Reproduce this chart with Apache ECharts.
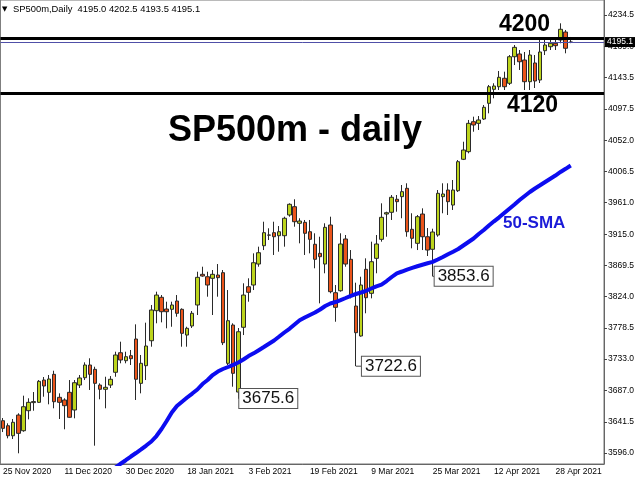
<!DOCTYPE html>
<html><head><meta charset="utf-8">
<script src="https://cdn.jsdelivr.net/npm/echarts@6/dist/echarts.min.js"></script>
<style>html,body{margin:0;padding:0;background:#fff}#c{width:640px;height:480px}</style>
</head><body><div id="c"></div>
<script>
const categories = ['25 Nov 2020','26 Nov 2020','27 Nov 2020','30 Nov 2020','1 Dec 2020','2 Dec 2020','3 Dec 2020','4 Dec 2020','7 Dec 2020','8 Dec 2020','9 Dec 2020','10 Dec 2020','11 Dec 2020','14 Dec 2020','15 Dec 2020','16 Dec 2020','17 Dec 2020','18 Dec 2020','21 Dec 2020','22 Dec 2020','23 Dec 2020','24 Dec 2020','28 Dec 2020','29 Dec 2020','30 Dec 2020','31 Dec 2020','4 Jan 2021','5 Jan 2021','6 Jan 2021','7 Jan 2021','8 Jan 2021','11 Jan 2021','12 Jan 2021','13 Jan 2021','14 Jan 2021','15 Jan 2021','18 Jan 2021','19 Jan 2021','20 Jan 2021','21 Jan 2021','22 Jan 2021','25 Jan 2021','26 Jan 2021','27 Jan 2021','28 Jan 2021','29 Jan 2021','1 Feb 2021','2 Feb 2021','3 Feb 2021','4 Feb 2021','5 Feb 2021','8 Feb 2021','9 Feb 2021','10 Feb 2021','11 Feb 2021','12 Feb 2021','15 Feb 2021','16 Feb 2021','17 Feb 2021','18 Feb 2021','19 Feb 2021','22 Feb 2021','23 Feb 2021','24 Feb 2021','25 Feb 2021','26 Feb 2021','1 Mar 2021','2 Mar 2021','3 Mar 2021','4 Mar 2021','5 Mar 2021','8 Mar 2021','9 Mar 2021','10 Mar 2021','11 Mar 2021','12 Mar 2021','15 Mar 2021','16 Mar 2021','17 Mar 2021','18 Mar 2021','19 Mar 2021','22 Mar 2021','23 Mar 2021','24 Mar 2021','25 Mar 2021','26 Mar 2021','29 Mar 2021','30 Mar 2021','31 Mar 2021','1 Apr 2021','2 Apr 2021','5 Apr 2021','6 Apr 2021','7 Apr 2021','8 Apr 2021','9 Apr 2021','12 Apr 2021','13 Apr 2021','14 Apr 2021','15 Apr 2021','16 Apr 2021','19 Apr 2021','20 Apr 2021','21 Apr 2021','22 Apr 2021','23 Apr 2021','26 Apr 2021','27 Apr 2021','28 Apr 2021','29 Apr 2021','30 Apr 2021','3 May 2021'];

const opens = [3643.1,3635.8,3621.2,3651.4,3628.5,3657.7,3669.5,3669.9,3702.4,3684.5,3710.7,3677.2,3673.3,3684.5,3658.7,3695.1,3705.8,3724.3,3718.0,3695.1,3688.9,3695.1,3713.7,3742.2,3730.6,3737.9,3762.2,3697.6,3723.3,3759.7,3803.5,3823.0,3805.9,3805.5,3817.6,3805.5,3768.0,3781.2,3811.8,3856.5,3853.0,3850.7,3855.5,3858.9,3726.8,3782.6,3684.9,3779.3,3838.4,3840.9,3871.5,3898.2,3913.8,3917.2,3912.8,3912.8,3943.0,3955.1,3930.9,3932.3,3918.6,3900.3,3887.1,3871.5,3928.4,3829.7,3832.6,3908.0,3878.4,3810.3,3766.6,3863.8,3828.8,3879.8,3907.5,3944.4,3946.9,3965.9,3969.7,3981.9,3922.1,3901.7,3944.4,3911.3,3893.0,3913.8,3969.7,3979.4,3957.5,3978.4,4024.2,4035.3,4079.0,4076.6,4082.9,4105.8,4126.2,4130.0,4142.3,4135.0,4173.7,4177.7,4168.9,4137.3,4164.6,4139.8,4182.5,4188.3,4193.3,4198.1,4209.7,4195.0];
const highs = [3647.0,3639.3,3645.6,3653.9,3679.6,3675.8,3684.9,3702.4,3706.8,3709.7,3716.0,3683.0,3675.8,3702.4,3702.4,3709.7,3728.2,3734.1,3721.8,3697.6,3707.2,3708.2,3743.7,3758.3,3743.7,3746.2,3783.6,3738.9,3786.0,3811.8,3831.2,3826.3,3816.6,3816.6,3826.3,3806.9,3780.1,3803.0,3860.3,3867.6,3860.3,3862.8,3871.5,3862.8,3833.6,3785.1,3778.2,3843.4,3850.7,3887.1,3896.8,3933.2,3923.6,3933.2,3926.9,3940.5,3960.0,3965.9,3938.2,3935.7,3935.7,3916.3,3911.3,3930.9,3940.5,3840.9,3916.3,3913.8,3891.9,3844.3,3853.0,3879.8,3904.1,3913.8,3960.0,3947.8,3972.1,3972.1,3986.7,3989.2,3945.5,3943.0,3952.7,3924.0,3923.0,3979.4,3989.2,3989.2,3994.0,4023.1,4049.8,4081.5,4086.3,4087.3,4103.3,4132.5,4135.0,4152.9,4151.9,4176.2,4190.8,4183.5,4180.6,4183.5,4176.2,4198.1,4198.1,4200.6,4198.1,4222.4,4212.7,4202.5];
const lows = [3626.6,3617.4,3616.4,3595.6,3627.0,3645.1,3657.7,3669.0,3678.1,3667.0,3661.2,3645.6,3630.6,3647.5,3646.6,3690.8,3702.4,3687.9,3606.7,3674.3,3661.2,3690.8,3707.2,3726.8,3726.8,3724.3,3673.3,3683.0,3702.4,3751.0,3785.1,3786.5,3777.8,3780.1,3794.7,3751.0,3751.0,3778.3,3797.2,3853.0,3823.9,3797.2,3823.9,3753.4,3724.3,3692.7,3675.6,3768.0,3816.6,3833.6,3867.6,3891.9,3906.5,3884.7,3889.5,3896.8,3940.5,3925.9,3901.7,3884.7,3887.1,3865.3,3814.2,3858.0,3828.8,3787.4,3831.2,3867.6,3821.5,3722.6,3765.6,3799.7,3821.5,3858.0,3904.1,3911.3,3935.7,3947.8,3938.2,3911.3,3894.4,3891.9,3891.9,3883.2,3853.6,3911.3,3945.5,3943.0,3950.3,3976.5,4023.1,4032.9,4064.4,4066.9,4081.5,4091.2,4113.1,4125.2,4125.2,4132.5,4161.6,4154.4,4125.2,4125.2,4128.1,4135.4,4176.2,4183.5,4183.5,4193.3,4178.7,4193.5];
const closes = [3632.0,3621.2,3640.8,3624.7,3663.5,3669.9,3671.0,3700.5,3693.7,3703.9,3670.8,3669.9,3665.0,3648.1,3698.5,3705.4,3724.3,3710.7,3697.6,3688.9,3691.8,3703.5,3738.9,3731.6,3736.4,3733.5,3703.5,3726.8,3752.0,3804.5,3826.3,3802.0,3802.0,3811.8,3799.7,3770.5,3777.8,3799.7,3852.1,3854.0,3840.9,3856.5,3851.6,3756.8,3788.9,3712.2,3772.8,3826.3,3830.3,3873.4,3888.0,3917.2,3913.6,3911.3,3918.6,3938.2,3958.6,3933.2,3934.2,3916.3,3907.5,3878.4,3882.2,3925.0,3831.2,3808.4,3900.7,3871.5,3823.9,3771.4,3840.9,3822.4,3874.9,3900.7,3939.6,3946.3,3968.8,3962.4,3977.0,3918.6,3909.0,3940.5,3911.3,3891.9,3918.2,3974.6,3973.6,3962.4,3979.4,4020.7,4037.7,4076.6,4074.2,4081.5,4100.0,4130.0,4131.0,4143.7,4130.0,4173.7,4187.4,4166.4,4137.3,4176.2,4138.3,4180.6,4190.8,4193.3,4189.8,4213.7,4186.0,4195.1];

const sma50 = [null,null,null,null,null,null,null,null,null,null,null,null,null,null,null,null,null,null,null,null,null,
3569.8,3574.9,3580.4,3585.5,3590.9,3596.0,3601.2,3606.9,3612.8,3620.8,3631.0,3642.7,3655.0,3664.5,3670.8,3676.9,3682.7,3688.6,3696.6,3702.4,3709.7,3714.8,3718.5,3721.4,3724.6,3727.9,3732.3,3737.4,3741.3,3745.9,3750.5,3755.3,3760.0,3765.8,3771.7,3777.1,3783.3,3789.5,3793.5,3797.2,3800.8,3805.2,3810.3,3814.0,3816.1,3819.0,3822.0,3825.2,3827.8,3830.0,3832.5,3835.8,3839.0,3841.6,3846.7,3852.6,3858.0,3860.6,3863.5,3866.0,3868.3,3870.5,3872.6,3874.7,3878.1,3881.7,3885.7,3889.5,3893.4,3898.5,3903.6,3908.7,3915.3,3921.1,3927.7,3933.8,3939.6,3945.9,3952.2,3958.3,3964.8,3970.7,3976.5,3981.6,3986.3,3991.1,3995.9,4000.5,4005.7,4010.3,4015.1];

const yTickValues = [4234.5,4189.0,4143.5,4097.5,4052.0,4006.5,3961.0,3915.0,3869.5,3824.0,3778.5,3733.0,3687.0,3641.5,3596.0];
const levels = [4200, 4120];
const annotatedLowIdx = [46, 69, 84];
const symbolName = 'SP500m';
const timeframe = 'Daily';
const bigTitle = 'SP500m - daily';
const smaName = '50-SMA';

const FONT = '"Liberation Sans", Arial, sans-serif';
const n = categories.length;
const axisData = categories.concat(['', '', '', '', '', '']);
const candleData = opens.map((o, i) => [o, closes[i], lows[i], highs[i]]);
const last = n - 1;
const gaps = [1, 6, 2];

const chart = echarts.init(document.getElementById('c'), null, {renderer: 'canvas'});

const option = {
  animation: false,
  backgroundColor: '#fff',
  grid: {left: 0, top: 0, width: 604, height: 464, show: true, borderColor: '#777', borderWidth: 1, backgroundColor: 'transparent'},
  xAxis: {
    type: 'category', data: axisData, boundaryGap: true,
    axisLine: {lineStyle: {color: '#666', width: 1}},
    axisTick: {alignWithLabel: true, length: 3, lineStyle: {color: '#444'},
      interval: (i) => i % 12 === 0 && i < n},
    axisLabel: {interval: (i) => i % 12 === 0 && i < n, align: 'left', margin: 3,
      fontSize: 8.5, color: '#000', fontFamily: FONT},
    splitLine: {show: false}
  },
  yAxis: {
    type: 'value', position: 'right', min: 3580, max: 4256.4,
    axisLine: {show: true, lineStyle: {color: '#666', width: 1}},
    axisTick: {show: true, length: 3, lineStyle: {color: '#444'}, customValues: yTickValues},
    axisLabel: {customValues: yTickValues, formatter: (v) => v.toFixed(1), margin: 4,
      fontSize: 8.5, color: '#000', fontFamily: FONT},
    splitLine: {show: false}
  },
  series: [
    {
      type: 'candlestick', data: candleData, barWidth: 4, z: 2,
      itemStyle: {color: '#bcd41c', color0: '#ea541a', borderColor: '#2a2a2a', borderColor0: '#2a2a2a', borderWidth: 1},
      markLine: {
        silent: true, symbol: ['none', 'none'], animation: false,
        data: [
          {yAxis: levels[0], lineStyle: {color: '#000', width: 3, type: 'solid'}, label: {show: false}},
          {yAxis: levels[1], lineStyle: {color: '#000', width: 3, type: 'solid'}, label: {show: false}},
          {yAxis: closes[last], lineStyle: {color: '#5050a8', width: 1, type: 'solid'},
            label: {show: true, position: 'end', distance: 1, formatter: closes[last].toFixed(1),
              backgroundColor: '#000', color: '#fff', fontSize: 8.5, fontFamily: FONT, padding: [1, 2, 0, 2]}}
        ]
      },
      markPoint: {
        silent: true, animation: false,
        data: annotatedLowIdx.map((idx, k) => ({
          coord: [idx, lows[idx]], value: lows[idx].toFixed(1),
          symbol: 'rect', symbolSize: [gaps[k], 1], symbolOffset: [gaps[k] / 2, 0],
          itemStyle: {color: '#444'},
          label: {show: true, position: 'right', distance: 0, formatter: lows[idx].toFixed(1),
            backgroundColor: '#fff', borderColor: '#555', borderWidth: 1, padding: [2, 3, 0, 3],
            fontSize: 17, color: '#111', fontFamily: FONT}
        }))
      }
    },
    {
      type: 'line', data: sma50, showSymbol: false, z: 4, clip: true, connectNulls: false,
      lineStyle: {color: '#0c0cf0', width: 4}, silent: true
    }
  ]
};
chart.setOption(option);

const py = (v) => chart.convertToPixel({yAxisIndex: 0}, v);
chart.setOption({
  graphic: [
    {type: 'text', x: 2, y: 9, silent: true, style: {text: '\u25BC', font: '7px "DejaVu Sans"', fill: '#000', verticalAlign: 'middle'}},
    {type: 'text', x: 13, y: 9, silent: true, style: {
      text: symbolName + ',' + timeframe + '  ' + opens[last].toFixed(1) + ' ' + highs[last].toFixed(1) + ' ' + lows[last].toFixed(1) + ' ' + closes[last].toFixed(1),
      font: '9.4px ' + FONT, fill: '#000', verticalAlign: 'middle'}},
    {type: 'text', x: 168, y: 131, silent: true, z: 10, style: {text: bigTitle, font: 'bold 36px ' + FONT, fill: '#000', verticalAlign: 'middle'}},
    {type: 'text', x: 499, y: py(levels[0]) - 14, silent: true, z: 10, style: {text: String(levels[0]), font: 'bold 23px ' + FONT, fill: '#000', verticalAlign: 'middle'}},
    {type: 'text', x: 507, y: py(levels[1]) + 12, silent: true, z: 10, style: {text: String(levels[1]), font: 'bold 23px ' + FONT, fill: '#000', verticalAlign: 'middle'}},
    {type: 'text', x: 503, y: 223, silent: true, z: 10, style: {text: smaName, font: 'bold 17px ' + FONT, fill: '#1a1ad8', verticalAlign: 'middle'}}
  ]
});
</script>
</body></html>
